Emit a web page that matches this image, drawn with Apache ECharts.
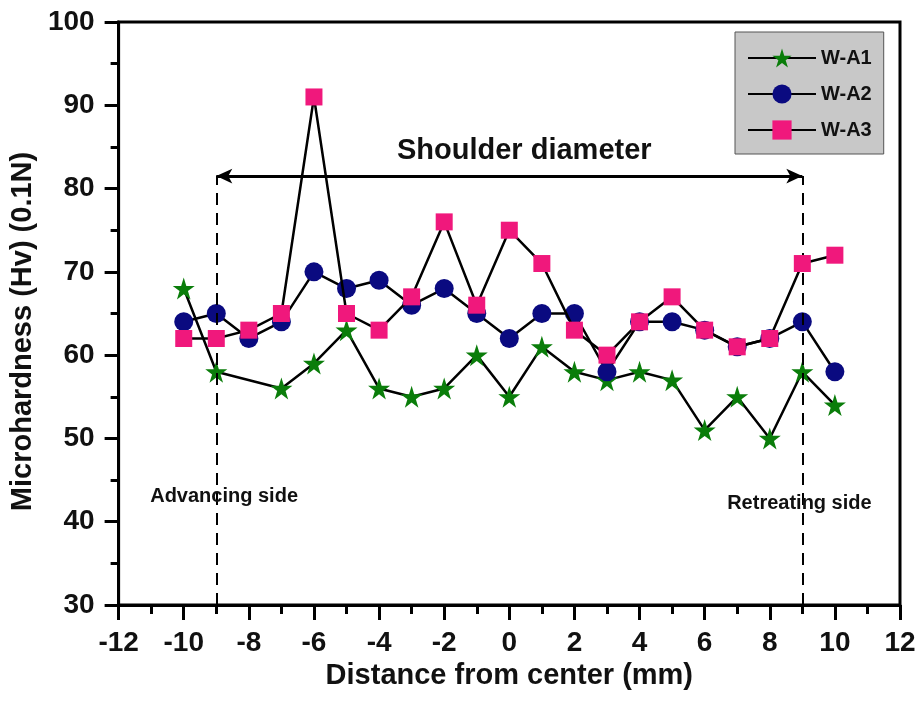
<!DOCTYPE html>
<html>
<head>
<meta charset="utf-8">
<script src="https://cdn.jsdelivr.net/npm/echarts@6/dist/echarts.min.js"></script>
<style>html,body{margin:0;padding:0;background:#fff}#c{width:919px;height:702px}</style>
</head>
<body>
<div id="c"></div>
<script>
const distances = [-10,-9,-8,-7,-6,-5,-4,-3,-2,-1,0,1,2,3,4,5,6,7,8,9,10];
const wA1 = [68,58,null,56,59,63,56,55,56,60,55,61,58,57,58,57,51,55,50,58,54];
const wA2 = [64,65,62,64,70,68,69,66,68,65,62,65,65,58,64,64,63,61,62,64,58];
const wA3 = [62,62,63,65,91,65,63,67,76,66,75,71,63,60,64,67,63,61,62,71,72];
const seriesNames = ['W-A1','W-A2','W-A3'];
const xTicks = [-12,-10,-8,-6,-4,-2,0,2,4,6,8,10,12];
const yTicks = [30,40,50,60,70,80,90,100];
const shoulderEdges = [-9, 9];

const FONT = '"Liberation Sans", Arial, sans-serif';
const STAR = 'path://M50,0 L61.2,34.5 L97.6,34.5 L68.2,55.9 L79.4,90.5 L50,69.1 L20.6,90.5 L31.8,55.9 L2.4,34.5 L38.8,34.5 Z';

function pairs(vals){ return distances.map((d,i)=>[d, vals[i]]); }

const chart = echarts.init(document.getElementById('c'), null, {renderer:'canvas'});
const arrowY = 81.5;
const option = {
  animation: false,
  backgroundColor: '#fff',
  grid: {left:116, right:19, top:22, bottom:97, show:true, borderColor:'#000', borderWidth:3, backgroundColor:'transparent'},
  legend: {
    data: seriesNames, orient:'vertical', left:735, top:32,
    padding:[16,12,14,12], itemGap:16, itemWidth:68, itemHeight:24,
    backgroundColor:'#c8c8c8', borderColor:'#555', borderWidth:1, borderRadius:0,
    textStyle:{fontFamily:FONT, fontWeight:'bold', fontSize:20, color:'#111'}
  },
  xAxis: {
    type:'value', min:xTicks[0], max:xTicks[xTicks.length-1], interval:2,
    name:'Distance from center (mm)', nameLocation:'middle', nameGap:53,
    nameTextStyle:{fontFamily:FONT, fontWeight:'bold', fontSize:29, color:'#111'},
    axisLine:{onZero:false, lineStyle:{color:'#000', width:3}},
    axisTick:{inside:false, length:15, lineStyle:{width:3, color:'#000'}},
    minorTick:{show:true, splitNumber:2, length:9, lineStyle:{width:3, color:'#000'}},
    splitLine:{show:false},
    axisLabel:{margin:24, fontFamily:FONT, fontWeight:'bold', fontSize:28, color:'#111'}
  },
  yAxis: {
    type:'value', min:yTicks[0], max:yTicks[yTicks.length-1], interval:10,
    name:'Microhardness (Hv) (0.1N)', nameLocation:'middle', nameGap:74,
    nameTextStyle:{fontFamily:FONT, fontWeight:'bold', fontSize:29, color:'#111', padding:[0,36,0,0]},
    axisLine:{onZero:false, lineStyle:{color:'#000', width:3}},
    axisTick:{inside:false, length:14, lineStyle:{width:3, color:'#000'}},
    minorTick:{show:true, splitNumber:2, length:8, lineStyle:{width:3, color:'#000'}},
    splitLine:{show:false},
    axisLabel:{margin:24, fontFamily:FONT, fontWeight:'bold', fontSize:28, color:'#111'}
  },
  series: [
    {
      name:'annotations', type:'line', data:[], silent:true,
      markLine:{
        silent:true, symbol:['none','none'],
        lineStyle:{type:[12,8], color:'#000', width:2},
        label:{show:false},
        data: shoulderEdges.map(e=>[{coord:[e,yTicks[0]]},{coord:[e,arrowY]}])
      },
      markPoint:{
        silent:true, symbol:'rect', symbolSize:1, itemStyle:{color:'rgba(0,0,0,0)'},
        label:{show:true, position:'inside', color:'#111', fontFamily:FONT, fontWeight:'bold'},
        data:[
          {coord:[0.46,84.5], label:{formatter:'Shoulder diameter', fontSize:29}},
          {coord:[-8.76,43.0], label:{formatter:'Advancing side', fontSize:20}},
          {coord:[8.91,42.2], label:{formatter:'Retreating side', fontSize:20}}
        ]
      }
    },
    {
      name:'arrow', type:'line', data:[], silent:true,
      markLine:{
        silent:true, symbol:['arrow','arrow'], symbolSize:[11,16],
        lineStyle:{type:'solid', color:'#000', width:3},
        label:{show:false},
        data:[[{coord:[shoulderEdges[0],arrowY]},{coord:[shoulderEdges[1],arrowY]}]]
      }
    },
    {
      name:seriesNames[0], type:'line', data:pairs(wA1), connectNulls:true,
      symbol:STAR, symbolSize:22, z:3,
      lineStyle:{color:'#000', width:2.5}, itemStyle:{color:'#0a7d0a'}
    },
    {
      name:seriesNames[1], type:'line', data:pairs(wA2),
      symbol:'circle', symbolSize:19, z:4,
      lineStyle:{color:'#000', width:2.5}, itemStyle:{color:'#0a0a80'}
    },
    {
      name:seriesNames[2], type:'line', data:pairs(wA3),
      symbol:'rect', symbolSize:17, z:5,
      lineStyle:{color:'#000', width:2.5}, itemStyle:{color:'#f0187c'}
    }
  ]
};
chart.setOption(option);
</script>
</body>
</html>
